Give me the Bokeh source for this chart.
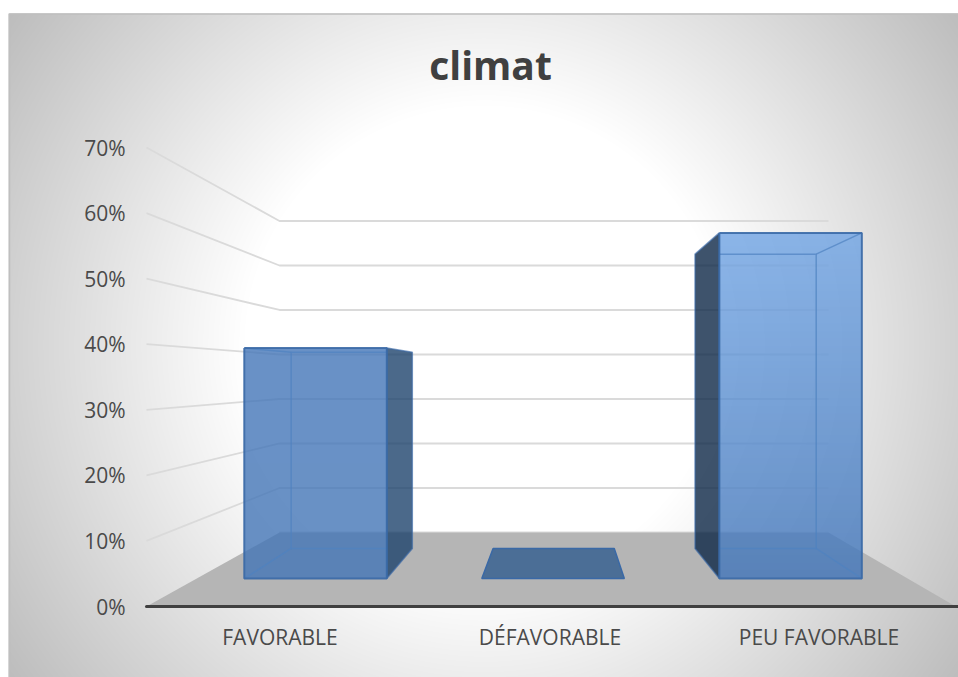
import numpy as np
from bokeh.embed import file_html
from bokeh.resources import INLINE
from bokeh.plotting import figure
from bokeh.models import Range1d, LinearAxis, FixedTicker, PrintfTickFormatter, Label

# ---- data ----
categories = ["FAVORABLE", "DÉFAVORABLE", "PEU FAVORABLE"]
values = [40, 0, 60]
y_ticks = [0, 10, 20, 30, 40, 50, 60, 70]
title_text = "climat"

# ---- pixel layout of the 3-D box ----
W, H = 958, 677
SX = 812 / 3            # px per category at the front of the box
SY = 459 / 70           # px per percent at the front of the box
X0_PX, Y0_PX = 146, 606


def dx(px):
    return (px - X0_PX) / SX


def dy(py):
    return (Y0_PX - py) / SY


BACK_LEFT = dx(279)
BACK_RIGHT = dx(828)
FLOOR_RISE = (606 - 532) / SY
BACK_SCALE = 44.5 / 65.57
S_FRONT, S_BACK = 0.378, 0.784
BAR_W = 0.6


def proj(x, v, s):
    """Project (category position, percent, depth 0..1) on the drawing plane."""
    left = s * BACK_LEFT
    right = 3 + s * (BACK_RIGHT - 3)
    return left + x / 3 * (right - left), s * FLOOR_RISE + v * (1 - s * (1 - BACK_SCALE))


p = figure(width=W, height=H, output_backend="svg", toolbar_location=None,
           x_range=Range1d(dx(0), dx(958)), y_range=Range1d(dy(677), dy(0)),
           x_axis_type=None, y_axis_type=None, min_border=0)
p.outline_line_color = None
p.grid.visible = False
p.background_fill_color = "white"
p.border_fill_color = "white"

# ---- chart-area background: circular grey gradient ----
yy, xx = np.mgrid[0:664, 0:950]
dist = np.hypot(xx + 8 - 483, (677 - yy) - 345)
grey = np.clip(255 - (dist - 240) * 0.194, 0, 255).astype(np.uint32)
bg = (255 << 24) | (grey << 16) | (grey << 8) | grey
p.image_rgba(image=[bg], x=dx(8), y=dy(677), dw=dx(958) - dx(8), dh=dy(13) - dy(677))
p.line([dx(9), dx(9), dx(958)], [dy(677), dy(13.5), dy(13.5)], line_color="#bfbfbf", line_width=1.5)

# ---- walls ----
wall_xs, wall_ys = [], []
for v in y_ticks:
    a, b, c = proj(0, v, 0), proj(0, v, 1), proj(3, v, 1)
    if v == 0:
        wall_xs.append([b[0], c[0]])
        wall_ys.append([b[1], c[1]])
    else:
        wall_xs.append([a[0], b[0], c[0]])
        wall_ys.append([a[1], b[1], c[1]])
p.multi_line(wall_xs, wall_ys, line_color="#dadada", line_width=1.8)

# ---- floor ----
floor = [proj(0, 0, 0), proj(0, 0, 1), proj(3, 0, 1), proj(2.99, 0, 0)]
p.patch([q[0] for q in floor], [q[1] for q in floor], fill_color="#b5b5b5", line_color=None)

# ---- bars ----
EDGE = "#3a69a6"
INNER = "#4f82c0"
BAR_ALPHA = 0.8
top_colour = {0: (69, 119, 185), 2: (112, 164, 228)}
base_colour = {0: (67, 117, 183), 2: (66, 118, 186)}
side_colour = {0: "#1e436d", 2: "#0e2847"}

for i, v in enumerate(values):
    x0 = i + 0.5 - BAR_W / 2
    x1 = i + 0.5 + BAR_W / 2
    fbl, fbr = proj(x0, 0, S_FRONT), proj(x1, 0, S_FRONT)
    ftl, ftr = proj(x0, v, S_FRONT), proj(x1, v, S_FRONT)
    bbl, bbr = proj(x0, 0, S_BACK), proj(x1, 0, S_BACK)
    btl, btr = proj(x0, v, S_BACK), proj(x1, v, S_BACK)

    if v == 0:
        pts = [fbl, fbr, bbr, bbl]
        p.patch([q[0] for q in pts], [q[1] for q in pts], fill_color="#4b6e96",
                line_color=EDGE, line_width=1.5)
        continue

    # dark side face, on the side turned to the middle of the chart
    if i < 1:
        side = [ftr, btr, bbr, fbr]
        inner_x = btl[0]
        depth_top, depth_bottom = (ftl, (btl[0], btl[1])), (fbl, (bbl[0], bbl[1]))
    else:
        side = [ftl, btl, bbl, fbl]
        inner_x = btr[0]
        depth_top, depth_bottom = (ftr, (btr[0], btr[1])), (fbr, (bbr[0], bbr[1]))
    p.patch([q[0] for q in side], [q[1] for q in side], fill_color=side_colour[i],
            fill_alpha=BAR_ALPHA, line_color=EDGE, line_alpha=0.65, line_width=1.5)

    # front face with its vertical gradient
    rows = 345
    t = np.linspace(0, 1, rows)[:, None]
    tc, bc = np.array(top_colour[i]), np.array(base_colour[i])
    col = (bc[None, :] * (1 - t) + tc[None, :] * t).astype(np.uint32)
    a = int(255 * BAR_ALPHA)
    arr = (a << 24) | (col[:, 2] << 16) | (col[:, 1] << 8) | col[:, 0]
    arr = arr.reshape(rows, 1).astype(np.uint32)
    p.image_rgba(image=[arr], x=ftl[0], y=fbl[1], dw=ftr[0] - ftl[0], dh=ftl[1] - fbl[1])

    # inner box edges, kept inside the front face
    far_x = ftr[0] if i < 1 else ftl[0]
    p.multi_line([[far_x, inner_x, inner_x, far_x],
                  [depth_top[0][0], depth_top[1][0]], [depth_bottom[0][0], depth_bottom[1][0]]],
                 [[btl[1], btl[1], bbl[1], bbl[1]],
                  [depth_top[0][1], depth_top[1][1]], [depth_bottom[0][1], depth_bottom[1][1]]],
                 line_color=INNER, line_width=1.5, line_alpha=0.7)
    # front outline
    p.line([ftl[0], ftr[0], fbr[0], fbl[0], ftl[0]], [ftl[1], ftr[1], fbr[1], fbl[1], ftl[1]],
           line_color=EDGE, line_width=2, line_alpha=0.9)

# ---- axes, drawn inside the frame ----
yaxis = LinearAxis(ticker=FixedTicker(ticks=y_ticks), formatter=PrintfTickFormatter(format="%d%%"),
                   fixed_location=0, axis_line_color=None,
                   major_tick_line_color=None, minor_tick_line_color=None,
                   major_label_standoff=15, major_label_text_font="Open Sans",
                   major_label_text_font_size="21px", major_label_text_color="#4a4a4a")
p.add_layout(yaxis, "left")

label_pos = [dx(279.5), dx(549.5), dx(818.5)]
xaxis = LinearAxis(ticker=FixedTicker(ticks=label_pos),
                   major_label_overrides=dict(zip(label_pos, categories)),
                   fixed_location=0, bounds=(0, 3), axis_line_color="#404040", axis_line_width=3,
                   axis_line_cap="round",
                   major_tick_line_color=None, minor_tick_line_color=None,
                   major_label_standoff=10, major_label_text_font="Open Sans",
                   major_label_text_font_size="21px", major_label_text_color="#4a4a4a")
p.add_layout(xaxis, "below")

p.add_layout(Label(x=dx(490), y=dy(64), text=title_text, text_align="center", text_baseline="middle",
                   text_font="Open Sans", text_font_style="bold", text_font_size="39px",
                   text_color="#404040"))

open("out.html", "w").write(file_html(p, INLINE))
